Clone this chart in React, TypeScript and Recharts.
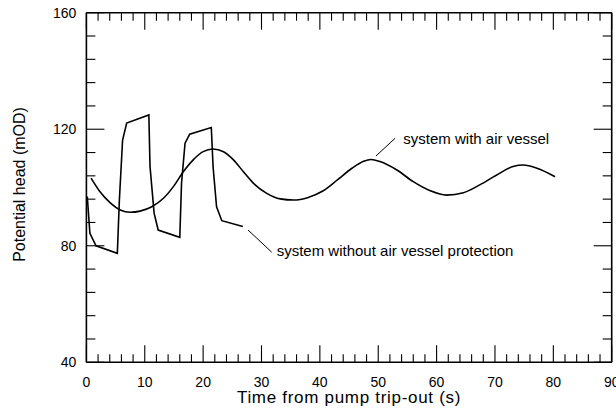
import {
  LineChart,
  Line,
  XAxis,
  YAxis,
  ReferenceLine,
  ReferenceDot,
  Label,
} from "recharts";

// time (s) / potential head (mOD)
const WITH_T = [
  0.8, 2.3, 4.0, 5.8, 7.5, 9.2, 11.2, 13.2, 14.9, 16.6, 18.3, 20.0, 21.7, 23.5,
  25.2, 26.9, 28.6, 30.9, 33.2, 35.5, 38.0, 40.5, 43.0, 45.5, 47.5, 48.8, 50.3,
  53.2, 56.0, 58.9, 61.7, 64.6, 67.4, 70.3, 73.1, 74.9, 77.2, 80.3,
];
const WITH_H = [
  103.2, 98.6, 94.9, 92.3, 91.5, 91.9, 93.4, 96.3, 100.3, 105.4, 109.5, 112.3,
  113.2, 112.3, 109.5, 105.4, 101.5, 98.0, 96.1, 95.7, 96.6, 98.8, 102.6, 106.6,
  109.0, 109.6, 108.9, 106.0, 102.0, 98.9, 97.4, 98.2, 100.9, 104.3, 107.2,
  107.7, 106.6, 103.7,
];

const WITHOUT_T = [
  0.15, 0.6, 1.65, 5.3, 5.65, 6.2, 6.9, 10.7, 10.9, 11.6, 12.3, 16.0, 16.3, 16.9,
  17.7, 21.4, 21.7, 22.3, 23.2, 26.8,
];
const WITHOUT_H = [
  96.9, 84.3, 80.0, 77.4, 95.7, 116.3, 122.1, 124.9, 107.2, 91.2, 85.4, 82.9,
  101.5, 115.2, 118.3, 120.6, 107.2, 93.4, 88.6, 86.6,
];

const X_TICKS = [
  0, 2, 4, 6, 8, 10, 12, 14, 16, 18, 20, 22, 24, 26, 28, 30, 32, 34, 36, 38, 40,
  42, 44, 46, 48, 50, 52, 54, 56, 58, 60, 62, 64, 66, 68, 70, 72, 74, 76, 78, 80,
  82, 84, 86, 88, 90,
];
const Y_TICKS = [
  40, 48, 56, 64, 72, 80, 88, 96, 104, 112, 120, 128, 136, 144, 152, 160,
];

const withData = WITH_T.map((t, i) => ({ t, h: WITH_H[i] }));
const withoutData = WITHOUT_T.map((t, i) => ({ t, h: WITHOUT_H[i] }));

const FONT = "'Liberation Sans', Arial, sans-serif";

function BottomTick({ x, y, payload }: any) {
  const v = payload.value;
  const major = v % 10 === 0;
  return (
    <g>
      <line x1={x} x2={x} y1={y} y2={y - (major ? 17 : 8)} stroke="#000" strokeWidth={1.1} />
      {major && (
        <text x={x} y={y + 24.5} textAnchor="middle" fontSize={14} fontFamily={FONT} fill="#000">
          {v}
        </text>
      )}
    </g>
  );
}

function TopTick({ x, y, payload }: any) {
  const major = payload.value % 10 === 0;
  return <line x1={x} x2={x} y1={y} y2={y + (major ? 17 : 8)} stroke="#000" strokeWidth={1.1} />;
}

function LeftTick({ x, y, payload }: any) {
  const v = payload.value;
  const major = v % 40 === 0;
  return (
    <g>
      <line x1={x} x2={x + (major ? 18 : 9)} y1={y} y2={y} stroke="#000" strokeWidth={1.1} />
      {major && (
        <text x={x - 10} y={y + 5} textAnchor="end" fontSize={14} fontFamily={FONT} fill="#000">
          {v}
        </text>
      )}
    </g>
  );
}

function RightTick({ x, y, payload }: any) {
  const major = payload.value % 40 === 0;
  return <line x1={x} x2={x - (major ? 18 : 9)} y1={y} y2={y} stroke="#000" strokeWidth={1.1} />;
}

function Note({ cx, cy, text }: any) {
  return (
    <text x={cx} y={cy} fontSize={15} fontFamily={FONT} fill="#000">
      {text}
    </text>
  );
}

export default function App() {
  return (
    <div style={{ position: "absolute", left: 0, top: 0, background: "#fff" }}>
      <LineChart
        width={616}
        height={414}
        margin={{ top: 11.7, right: 3.3, bottom: 0, left: 0 }}
      >
        <XAxis
          type="number"
          dataKey="t"
          domain={[0, 90]}
          ticks={X_TICKS}
          interval={0}
          height={51.7}
          tickSize={0}
          tickMargin={0}
          tick={<BottomTick />}
          axisLine={{ stroke: "#000", strokeWidth: 1.6 }}
          allowDataOverflow
        >
          <Label
            content={({ viewBox }: any) => (
              <text
                x={viewBox.x + viewBox.width / 2}
                y={viewBox.y + 41}
                textAnchor="middle"
                fontSize={17}
                letterSpacing={0.7}
                fontFamily={FONT}
                fill="#000"
              >
                Time from pump trip-out (s)
              </text>
            )}
          />
        </XAxis>
        <XAxis
          xAxisId="top"
          orientation="top"
          type="number"
          dataKey="t"
          domain={[0, 90]}
          ticks={X_TICKS}
          interval={0}
          height={1}
          tickSize={0}
          tickMargin={0}
          tick={<TopTick />}
          axisLine={{ stroke: "#000", strokeWidth: 1.6 }}
          allowDataOverflow
        />
        <YAxis
          type="number"
          domain={[40, 160]}
          ticks={Y_TICKS}
          interval={0}
          width={86.4}
          tickSize={0}
          tickMargin={0}
          tick={<LeftTick />}
          axisLine={{ stroke: "#000", strokeWidth: 1.6 }}
          allowDataOverflow
        >
          <Label
            content={({ viewBox }: any) => {
              const cx = viewBox.x + 25;
              const cy = viewBox.y + viewBox.height / 2 - 3;
              return (
                <text
                  x={cx}
                  y={cy}
                  transform={`rotate(-90 ${cx} ${cy})`}
                  textAnchor="middle"
                  fontSize={16}
                  fontFamily={FONT}
                  fill="#000"
                >
                  Potential head (mOD)
                </text>
              );
            }}
          />
        </YAxis>
        <YAxis
          yAxisId="right"
          orientation="right"
          type="number"
          domain={[40, 160]}
          ticks={Y_TICKS}
          interval={0}
          width={1}
          tickSize={0}
          tickMargin={0}
          tick={<RightTick />}
          axisLine={{ stroke: "#000", strokeWidth: 1.6 }}
          allowDataOverflow
        />

        <Line
          data={withData}
          dataKey="h"
          type="monotone"
          stroke="#000"
          strokeWidth={1.6}
          dot={false}
          isAnimationActive={false}
        />
        <Line
          data={withoutData}
          dataKey="h"
          type="linear"
          stroke="#000"
          strokeWidth={1.6}
          dot={false}
          isAnimationActive={false}
        />

        <ReferenceLine
          segment={[
            { x: 27.7, y: 85.4 },
            { x: 31.75, y: 77.8 },
          ]}
          stroke="#000"
          strokeWidth={1}
        />
        <ReferenceLine
          segment={[
            { x: 52.9, y: 116.9 },
            { x: 49.6, y: 110.8 },
          ]}
          stroke="#000"
          strokeWidth={1}
        />
        <ReferenceDot
          x={32.6}
          y={76.5}
          r={0}
          shape={(p: any) => <Note {...p} text="system without air vessel protection" />}
        />
        <ReferenceDot
          x={54.3}
          y={115.1}
          r={0}
          shape={(p: any) => <Note {...p} text="system with air vessel" />}
        />
      </LineChart>
    </div>
  );
}
